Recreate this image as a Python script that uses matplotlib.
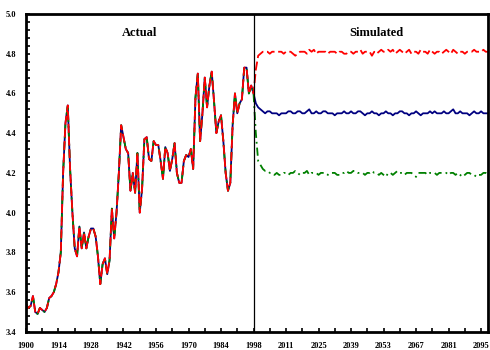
import matplotlib
matplotlib.use("Agg")
import matplotlib.pyplot as plt
from matplotlib.ticker import MultipleLocator, FixedLocator, FixedFormatter

# Observed series, 1900-1998 (shared by all three lines)
actual_years = list(range(1900, 1999))
actual = [
    3.54, 3.52, 3.53, 3.58, 3.50, 3.49, 3.52, 3.51, 3.50, 3.52,
    3.57, 3.58, 3.60, 3.64, 3.70, 3.80, 4.20, 4.45, 4.54, 4.22,
    4.00, 3.82, 3.78, 3.93, 3.82, 3.90, 3.82, 3.88, 3.92, 3.92,
    3.88, 3.78, 3.64, 3.74, 3.77, 3.69, 3.76, 4.02, 3.87, 4.00,
    4.20, 4.44, 4.38, 4.32, 4.30, 4.11, 4.20, 4.10, 4.30, 4.00,
    4.12, 4.37, 4.38, 4.27, 4.26, 4.36, 4.34, 4.34, 4.26, 4.17,
    4.33, 4.30, 4.21, 4.27, 4.35, 4.20, 4.15, 4.15, 4.26, 4.29,
    4.28, 4.32, 4.22, 4.58, 4.70, 4.36, 4.50, 4.68, 4.53, 4.64,
    4.71, 4.56, 4.40, 4.46, 4.49, 4.36, 4.20, 4.11, 4.15, 4.44,
    4.60, 4.50, 4.55, 4.57, 4.73, 4.73, 4.60, 4.64, 4.60,
]

# Simulated paths, 1998-2098
sim_years = list(range(1998, 2099))
sim_mean = [
    4.55, 4.53, 4.52, 4.51, 4.50, 4.51, 4.51, 4.50, 4.50, 4.50,
    4.49, 4.50, 4.50, 4.50, 4.51, 4.51, 4.50, 4.50, 4.51, 4.51,
    4.50, 4.50, 4.51, 4.52, 4.50, 4.50, 4.51, 4.50, 4.50, 4.51,
    4.51, 4.50, 4.50, 4.50, 4.49, 4.50, 4.50, 4.50, 4.51, 4.50,
    4.50, 4.51, 4.50, 4.50, 4.51, 4.51, 4.50, 4.49, 4.50, 4.50,
    4.51, 4.50, 4.50, 4.49, 4.50, 4.50, 4.51, 4.50, 4.50, 4.49,
    4.50, 4.50, 4.51, 4.51, 4.50, 4.50, 4.49, 4.50, 4.50, 4.51,
    4.50, 4.49, 4.50, 4.50, 4.50, 4.51, 4.50, 4.51, 4.50, 4.50,
    4.50, 4.51, 4.50, 4.50, 4.51, 4.52, 4.50, 4.50, 4.51, 4.50,
    4.50, 4.50, 4.49, 4.50, 4.51, 4.50, 4.50, 4.51, 4.50, 4.50,
    4.50,
]
sim_upper = [
    4.72, 4.79, 4.80, 4.81, 4.81, 4.81, 4.80, 4.81, 4.81, 4.81,
    4.81, 4.81, 4.80, 4.81, 4.81, 4.81, 4.80, 4.79, 4.80, 4.81,
    4.81, 4.81, 4.80, 4.82, 4.81, 4.82, 4.80, 4.81, 4.81, 4.81,
    4.81, 4.80, 4.81, 4.81, 4.81, 4.80, 4.81, 4.81, 4.80, 4.80,
    4.81, 4.81, 4.80, 4.81, 4.81, 4.82, 4.80, 4.81, 4.81, 4.81,
    4.79, 4.81, 4.80, 4.81, 4.82, 4.81, 4.81, 4.82, 4.81, 4.82,
    4.80, 4.81, 4.82, 4.81, 4.80, 4.81, 4.82, 4.80, 4.81, 4.81,
    4.80, 4.82, 4.81, 4.81, 4.80, 4.82, 4.81, 4.80, 4.81, 4.81,
    4.80, 4.81, 4.82, 4.81, 4.80, 4.82, 4.81, 4.80, 4.81, 4.81,
    4.80, 4.81, 4.81, 4.81, 4.82, 4.81, 4.81, 4.81, 4.82, 4.81,
    4.81,
]
sim_lower = [
    4.40, 4.26, 4.24, 4.22, 4.21, 4.21, 4.20, 4.20, 4.19, 4.20,
    4.19, 4.19, 4.20, 4.20, 4.19, 4.20, 4.20, 4.21, 4.20, 4.19,
    4.20, 4.20, 4.21, 4.19, 4.20, 4.20, 4.20, 4.19, 4.20, 4.20,
    4.20, 4.19, 4.20, 4.20, 4.20, 4.19, 4.19, 4.20, 4.20, 4.21,
    4.20, 4.20, 4.21, 4.21, 4.20, 4.20, 4.20, 4.19, 4.20, 4.20,
    4.21, 4.20, 4.20, 4.19, 4.20, 4.19, 4.18, 4.20, 4.20, 4.19,
    4.20, 4.21, 4.20, 4.20, 4.19, 4.20, 4.20, 4.20, 4.19, 4.18,
    4.20, 4.20, 4.20, 4.20, 4.19, 4.20, 4.20, 4.20, 4.19, 4.20,
    4.20, 4.20, 4.20, 4.19, 4.20, 4.20, 4.19, 4.20, 4.19, 4.18,
    4.19, 4.20, 4.20, 4.19, 4.19, 4.18, 4.19, 4.19, 4.20, 4.20,
    4.19,
]

# Category labels along the time axis (1998 appears twice: end of data, start of simulation)
categories = [str(y) for y in actual_years] + [str(y) for y in sim_years]
tick_every = 14

mean_line = actual + sim_mean
upper_line = actual + sim_upper
lower_line = actual + sim_lower
x = list(range(len(categories)))
split = len(actual_years) - 1

plt.rcParams["font.family"] = ["Liberation Serif", "DejaVu Serif"]
fig = plt.figure(figsize=(4.9, 3.5), dpi=100)
ax = fig.add_axes([0.053, 0.052, 0.943, 0.908])

ax.plot(x, mean_line, color="#000080", lw=1.3, solid_joinstyle="round")
ax.plot(x, lower_line, color="#008000", lw=1.3, dashes=(4.5, 2.2, 1, 2.2))
ax.plot(x, upper_line, color="#ff0000", lw=1.3, dashes=(5, 2))

ax.axvline(split, color="black", lw=0.9)

ax.set_xlim(0, len(categories) - 1)
ax.set_ylim(3.4, 5.0)

ax.yaxis.set_major_locator(MultipleLocator(0.2))
ax.yaxis.set_minor_locator(MultipleLocator(0.04))
ax.yaxis.set_major_formatter(plt.FuncFormatter(lambda v, p: f"{v:.1f}"))

major_pos = list(range(0, len(categories), tick_every))
ax.xaxis.set_major_locator(FixedLocator(major_pos))
ax.xaxis.set_major_formatter(FixedFormatter([categories[i] for i in major_pos]))
ax.xaxis.set_minor_locator(FixedLocator(list(range(0, len(categories), tick_every // 2))))

ax.tick_params(axis="both", which="both", direction="in", width=1.2, length=3,
               top=False, right=False)
ax.tick_params(axis="y", which="major", pad=7)
ax.tick_params(axis="x", which="major", pad=7)
for lab in ax.get_xticklabels() + ax.get_yticklabels():
    lab.set_fontsize(6)
    lab.set_fontweight("bold")

for s in ax.spines.values():
    s.set_linewidth(2.0)

ax.text(49, 4.905, "Actual", ha="center", va="center", fontsize=9, fontweight="bold")
ax.text(151, 4.905, "Simulated", ha="center", va="center", fontsize=9, fontweight="bold")

fig.savefig("out.png", dpi=100)
